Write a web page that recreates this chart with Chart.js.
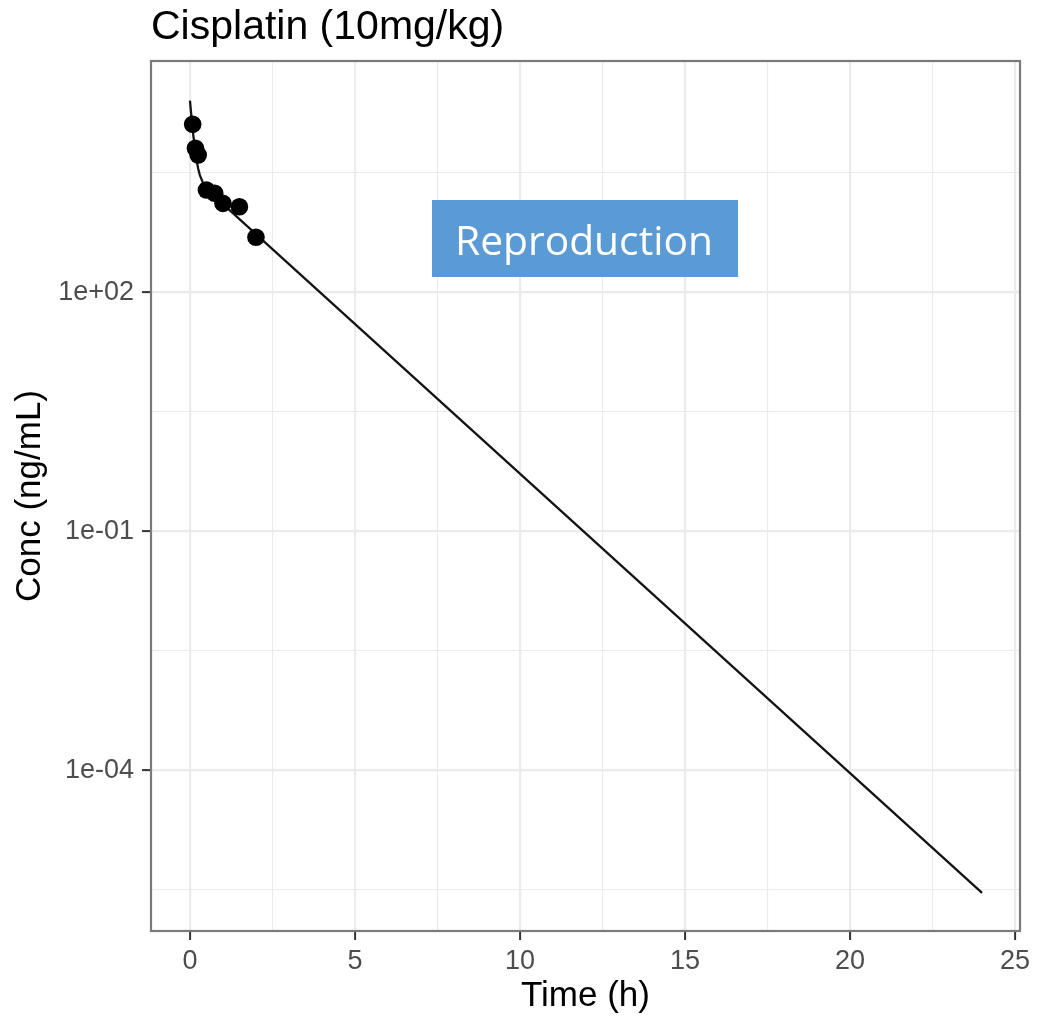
<!DOCTYPE html>
<html>
<head>
<meta charset="utf-8">
<script src="https://cdn.jsdelivr.net/npm/chart.js@4/dist/chart.umd.min.js"></script>
<style>
  html, body { margin: 0; padding: 0; background: #ffffff; }
  #wrap { position: relative; width: 1044px; height: 1020px; }
</style>
</head>
<body>
<div id="wrap"><canvas id="c"></canvas></div>
<script>
// ---- data ----
const chartTitle = 'Cisplatin (10mg/kg)';
const xTitle = 'Time (h)';
const yTitle = 'Conc (ng/mL)';
const overlayText = 'Reproduction';

// observed concentrations
const timesObs = [0.083, 0.167, 0.25, 0.5, 0.75, 1, 1.5, 2];
const concObs  = [12800, 6400, 5260, 1915, 1740, 1300, 1180, 489];

// fitted curve
const timesFit = [0, 0.05, 0.1, 0.15, 0.2, 0.25, 0.3, 0.4, 0.5, 0.75, 1, 1.5, 2, 3, 24];
const concFit  = [25300, 15100, 9470, 6330, 4560, 3540, 2940, 2320, 2010, 1580, 1270, 824, 535, 225, 2.9e-6];

// axes
const xMajorTicks = [0, 5, 10, 15, 20, 25];
const xMinorTicks = [2.5, 7.5, 12.5, 17.5, 22.5];
const yMajorTicks = [1e2, 1e-1, 1e-4];
const yMajorLabels = ['1e+02', '1e-01', '1e-04'];
const yMinorTicks = [3162.28, 3.16228, 0.00316228, 3.16228e-6];
const xRange = [-1.18, 25.15];
const yRange = [Math.pow(10, -6.015), Math.pow(10, 4.90)];

// ---- helpers ----
const FONT = "'Liberation Sans', Arial, Helvetica, sans-serif";
const isXMajor = v => xMajorTicks.some(t => Math.abs(t - v) < 1e-9);
const yMajorIndex = v => yMajorTicks.findIndex(t => Math.abs(Math.log10(t) - Math.log10(v)) < 1e-4);

const obsPoints = timesObs.map((t, i) => ({ x: t, y: concObs[i] }));
const fitPoints = timesFit.map((t, i) => ({ x: t, y: concFit[i] }));

const panelPlugin = {
  id: 'panel',
  afterDatasetsDraw(chart) {
    const a = chart.chartArea, ctx = chart.ctx;
    ctx.save();
    ctx.strokeStyle = '#7a7a7a';
    ctx.lineWidth = 2.2;
    ctx.strokeRect(a.left, a.top, a.right - a.left, a.bottom - a.top);
    ctx.restore();
  },
  afterDraw(chart) {
    const ctx = chart.ctx;
    ctx.save();
    ctx.fillStyle = '#5B9BD5';
    ctx.fillRect(432, 200, 306, 77);
    ctx.font = "100px 'Open Sans', sans-serif";
    const w = ctx.measureText(overlayText).width;
    const size = 100 * 258 / w;
    ctx.font = size.toFixed(2) + "px 'Open Sans', sans-serif";
    ctx.fillStyle = '#ffffff';
    ctx.textAlign = 'center';
    ctx.textBaseline = 'alphabetic';
    ctx.fillText(overlayText, 584, 255);
    ctx.restore();
  }
};

new Chart(document.getElementById('c'), {
  type: 'scatter',
  data: {
    datasets: [
      {
        label: 'Observed',
        data: obsPoints,
        pointRadius: 8.8,
        pointHoverRadius: 8.8,
        pointBackgroundColor: '#000000',
        pointBorderColor: '#000000',
        pointBorderWidth: 0,
        showLine: false
      },
      {
        label: 'Fit',
        data: fitPoints,
        showLine: true,
        borderColor: '#141414',
        borderWidth: 2.3,
        pointRadius: 0,
        pointHoverRadius: 0,
        tension: 0,
        fill: false
      }
    ]
  },
  options: {
    responsive: true,
    maintainAspectRatio: false,
    animation: false,
    events: [],
    layout: { padding: { left: 0, right: 24, top: 0, bottom: 0 } },
    plugins: {
      legend: { display: false },
      tooltip: { enabled: false },
      title: {
        display: true,
        text: chartTitle,
        align: 'start',
        fullSize: false,
        color: '#000000',
        font: { family: FONT, size: 41, weight: 'normal', lineHeight: 1.2 },
        padding: { top: 3, bottom: 8.8 }
      }
    },
    scales: {
      x: {
        type: 'linear',
        position: 'bottom',
        min: xRange[0],
        max: xRange[1],
        afterBuildTicks: s => {
          s.ticks = xMajorTicks.concat(xMinorTicks).sort((a, b) => a - b).map(v => ({ value: v }));
        },
        afterFit: s => { s.height = 89; },
        ticks: {
          autoSkip: false,
          maxRotation: 0,
          padding: 5,
          color: '#4D4D4D',
          font: { family: FONT, size: 27, lineHeight: 1.2 },
          callback: v => isXMajor(v) ? String(v) : ''
        },
        grid: {
          drawOnChartArea: true,
          drawTicks: true,
          tickLength: 9,
          tickWidth: 2,
          color: '#EBEBEB',
          lineWidth: c => (c.tick && isXMajor(c.tick.value)) ? 2.2 : 1.1,
          tickColor: c => (c.tick && isXMajor(c.tick.value)) ? '#333333' : 'rgba(0,0,0,0)'
        },
        border: { display: false },
        title: {
          display: true,
          text: xTitle,
          color: '#000000',
          font: { family: FONT, size: 35, lineHeight: 1.2 },
          padding: { top: 0, bottom: 2.5 }
        }
      },
      y: {
        type: 'logarithmic',
        position: 'left',
        min: yRange[0],
        max: yRange[1],
        afterBuildTicks: s => {
          s.ticks = yMajorTicks.concat(yMinorTicks).sort((a, b) => a - b).map(v => ({ value: v }));
        },
        afterFit: s => { s.width = 151; },
        ticks: {
          autoSkip: false,
          padding: 8,
          color: '#4D4D4D',
          font: { family: FONT, size: 27, lineHeight: 1.2 },
          callback: v => { const i = yMajorIndex(v); return i >= 0 ? yMajorLabels[i] : ''; }
        },
        grid: {
          drawOnChartArea: true,
          drawTicks: true,
          tickLength: 9,
          tickWidth: 2,
          color: '#EBEBEB',
          lineWidth: c => (c.tick && yMajorIndex(c.tick.value) >= 0) ? 2.2 : 1.1,
          tickColor: c => (c.tick && yMajorIndex(c.tick.value) >= 0) ? '#333333' : 'rgba(0,0,0,0)'
        },
        border: { display: false },
        title: {
          display: true,
          text: yTitle,
          color: '#000000',
          font: { family: FONT, size: 35, lineHeight: 1.2 },
          padding: { top: 9.5, bottom: 0 }
        }
      }
    }
  },
  plugins: [panelPlugin]
});
</script>
</body>
</html>
